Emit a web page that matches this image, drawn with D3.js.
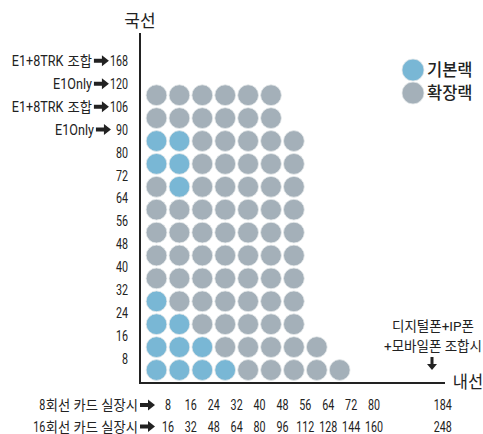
<!DOCTYPE html>
<html><head><meta charset="utf-8">
<script src="https://cdn.jsdelivr.net/npm/d3@7"></script>
<style>body{margin:0;background:#fff}text{font-family:"Roboto","Noto Sans CJK KR","Noto Sans",sans-serif;fill:#222}</style>
</head><body><div id="c"></div>
<script>
// rows from bottom to top
const rowTotals = [9,8,7,7,7,7,7,7,7,7,7,6,6];
const rowBlue = [[0,1,2,3],[0,1,2],[0,1],[0],[],[],[],[],[1],[0,1],[0,1],[],[]];
const yLabelNames = [null,null,null,null,null,null,null,null,null,null,["E1Only"],["E1+8TRK","조합"],["E1Only"],["E1+8TRK","조합"]];
const yLabelValues = ["8","16","24","32","40","48","56","64","72","80","90","106","120","168"];
const xLabels8 = ["8","16","24","32","40","48","56","64","72","80","","","184"];
const xLabels16 = ["16","32","48","64","80","96","112","128","144","160","","","248"];
const xRowNames = [["8","회선 카드 실장시"],["16","회선 카드 실장시"]];
const legendItems = [{name:"기본랙", type:"base"},{name:"확장랙", type:"ext"}];
const colors = {base:"#79b7d5", ext:"#a4b0b9"};

const W=483,H=434;
const LAT={size:15,sx:0.84,family:"Roboto"}, NUM={size:14.5,sx:0.74,family:"Roboto"}, KOR={size:14,sx:0.95,family:"Noto Sans CJK KR"};
const svg=d3.select("#c").append("svg").attr("width",W).attr("height",H);
const x=d3.scaleLinear().domain([0,10]).range([156.5,156.5+229]);
const y=d3.scaleLinear().domain([0,10]).range([370,370-229]);

// circles
const cells=[];
rowTotals.forEach((n,r)=>{for(let c=0;c<n;c++)cells.push({r,c,type:rowBlue[r].includes(c)?"base":"ext"});});
svg.append("g").selectAll("circle").data(cells).join("circle")
 .attr("cx",d=>x(d.c)).attr("cy",d=>y(d.r)).attr("r",10.4)
 .attr("fill",d=>colors[d.type]).attr("stroke","#e4e8ea").attr("stroke-width",0.8);

// axes lines
svg.append("line").attr("x1",140).attr("x2",140).attr("y1",33).attr("y2",384).attr("stroke","#222").attr("stroke-width",2);
svg.append("line").attr("x1",139).attr("x2",445).attr("y1",383).attr("y2",383).attr("stroke","#222").attr("stroke-width",2);
svg.append("text").attr("x",140).attr("y",21).attr("dy","0.35em").attr("text-anchor","middle").attr("font-size",17).attr("font-family","Noto Sans CJK KR").text("국선");
svg.append("text").attr("x",468).attr("y",382).attr("dy","0.35em").attr("text-anchor","middle").attr("font-size",16.5).attr("font-family","Noto Sans CJK KR").text("내선");

const isKor=s=>/[\uac00-\ud7a3]/.test(s);
const isNum=s=>/^[0-9]+$/.test(s);
function seg(g,s,px,py,anchor,style){
  const st=style||(isKor(s)?KOR:LAT);
  const t=g.append("text").attr("transform",`translate(${px},${py}) scale(${st.sx},1)`)
    .attr("dy","0.36em").attr("text-anchor",anchor).attr("font-size",st.size).attr("font-family",st.family).text(s);
  return t.node().getComputedTextLength()*st.sx;
}
function arrow(g,xr,py){ // right-pointing thick arrow, right end at xr, 15px wide
  g.append("path").attr("d",`M${xr-15},${py-2}H${xr-7}V${py-5.5}L${xr},${py}L${xr-7},${py+5.5}V${py+2}H${xr-15}Z`).attr("fill","#222");
  return 15;
}
// segments right to left: parts then arrow then value
function label(g,xr,py,parts,val,gapVal,gapParts){
  let cur=xr;
  if(val) cur-=seg(g,val,cur,py,"end",NUM);
  if(parts){
    cur-=gapVal; cur-=arrow(g,cur,py); cur-=2;
    for(let k=parts.length-1;k>=0;k--){ cur-=seg(g,parts[k],cur,py,"end",isNum(parts[k])?NUM:null); if(k>0) cur-=gapParts; }
  }
}
// y labels
const gy=svg.append("g");
yLabelValues.forEach((v,i)=>label(gy,128,y(i+0.5),yLabelNames[i],v,i===10?5:1,4));

// x labels
[xLabels8,xLabels16].forEach((labels,k)=>{
  const yy=405+k*21.5;
  const g=svg.append("g");
  label(g,155,yy,xRowNames[k],null,0,0.5);
  labels.forEach((d,i)=>{ if(d) seg(g,d,x(i+0.5),yy,"middle",NUM); });
});

// annotation
const ann=svg.append("g");
ann.append("text").attr("x",433).attr("y",326).attr("dy","0.35em").attr("text-anchor","middle").attr("font-size",13.5).text("디지털폰+IP폰");
ann.append("text").attr("x",433).attr("y",346).attr("dy","0.35em").attr("text-anchor","middle").attr("font-size",13.5).text("+모바일폰 조합시");
ann.append("path").attr("d","M430.5,357V364H427L432,370L437,364H433.5V357Z").attr("fill","#222");

// legend
const lg=svg.append("g").selectAll("g").data(legendItems).join("g").attr("transform",(d,i)=>`translate(413,${70+i*23})`);
lg.append("circle").attr("r",11).attr("fill",d=>colors[d.type]).attr("stroke","#e4e8ea").attr("stroke-width",0.8);
lg.append("text").attr("x",14).attr("dy","0.35em").attr("font-size",16.5).attr("font-weight",500).attr("font-family","Noto Sans CJK KR").text(d=>d.name);
</script></body></html>
